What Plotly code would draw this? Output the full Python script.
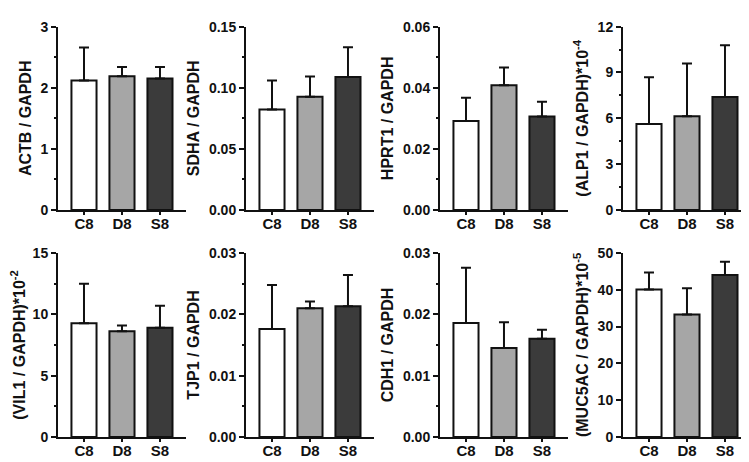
import plotly.graph_objects as go

categories = ["C8", "D8", "S8"]

genes = ["ACTB", "SDHA", "HPRT1", "ALP1", "VIL1", "TJP1", "CDH1", "MUC5AC"]
titles = [
    "ACTB / GAPDH",
    "SDHA / GAPDH",
    "HPRT1 / GAPDH",
    "(ALP1 / GAPDH)*10<sup>-4</sup>",
    "(VIL1 / GAPDH)*10<sup>-2</sup>",
    "TJP1 / GAPDH",
    "CDH1 / GAPDH",
    "(MUC5AC / GAPDH)*10<sup>-5</sup>",
]

actb_mean = [2.12, 2.19, 2.15]
actb_sd = [0.54, 0.15, 0.19]
sdha_mean = [0.0822, 0.0927, 0.1088]
sdha_sd = [0.0237, 0.0166, 0.0244]
hprt1_mean = [0.0291, 0.0408, 0.0306]
hprt1_sd = [0.0076, 0.0058, 0.0048]
alp1_mean = [5.63, 6.13, 7.40]
alp1_sd = [3.05, 3.45, 3.38]
vil1_mean = [9.27, 8.62, 8.91]
vil1_sd = [3.23, 0.47, 1.78]
tjp1_mean = [0.0176, 0.0210, 0.0213]
tjp1_sd = [0.0072, 0.0011, 0.0051]
cdh1_mean = [0.0186, 0.0145, 0.0160]
cdh1_sd = [0.0090, 0.0042, 0.0015]
muc5ac_mean = [40.1, 33.3, 44.0]
muc5ac_sd = [4.6, 7.1, 3.6]

means = [actb_mean, sdha_mean, hprt1_mean, alp1_mean,
         vil1_mean, tjp1_mean, cdh1_mean, muc5ac_mean]
sds = [actb_sd, sdha_sd, hprt1_sd, alp1_sd,
       vil1_sd, tjp1_sd, cdh1_sd, muc5ac_sd]

y_max = [3, 0.15, 0.06, 12, 15, 0.03, 0.03, 50]
y_dtick = [1, 0.05, 0.02, 3, 5, 0.01, 0.01, 10]
y_minor = [True, True, True, True, True, True, True, False]
y_fmt = ["d", ".2f", ".2f", "d", "d", ".2f", ".2f", "d"]

bar_colors = ["#ffffff", "#a6a6a6", "#3b3b3b"]

W, H = 749, 462
axis_left_px = [50, 238, 432, 615]
axis_w_px = 128
row_top_px = [11, 245.5]
row_zero_px = [201, 436]

FONT = "Liberation Sans, Arial, sans-serif"

fig = go.Figure()
layout = dict(
    width=W, height=H,
    margin=dict(l=0, r=0, t=0, b=0),
    paper_bgcolor="white", plot_bgcolor="white",
    showlegend=False,
)

for i in range(8):
    row, col = divmod(i, 4)
    n = i + 1
    xa = "x" if n == 1 else f"x{n}"
    ya = "y" if n == 1 else f"y{n}"
    fig.add_trace(go.Bar(
        x=[0, 1, 2], y=means[i],
        xaxis=xa, yaxis=ya,
        width=0.66,
        marker=dict(color=bar_colors, line=dict(color="#111111", width=2)),
        error_y=dict(type="data", symmetric=False, array=sds[i],
                     arrayminus=[0, 0, 0], color="#111111",
                     thickness=2, width=5),
    ))
    x0 = axis_left_px[col] / W
    x1 = (axis_left_px[col] + axis_w_px) / W
    y1 = 1 - row_top_px[row] / H
    y0 = 1 - row_zero_px[row] / H
    xkey = "xaxis" if n == 1 else f"xaxis{n}"
    ykey = "yaxis" if n == 1 else f"yaxis{n}"
    layout[xkey] = dict(
        domain=[x0, x1], anchor=ya,
        range=[-0.684, 2.685],
        tickmode="array", tickvals=[0, 1, 2], ticktext=categories,
        showline=True, linecolor="#111111", linewidth=2,
        ticks="outside", ticklen=3, tickwidth=1.5, tickcolor="#111111",
        ticklabelstandoff=-4,
        tickfont=dict(family=FONT, size=15, color="#111111", weight="bold"),
        showgrid=False, zeroline=False, fixedrange=True,
    )
    ydict = dict(
        domain=[y0, y1], anchor=xa,
        range=[0, y_max[i]],
        tick0=0, dtick=y_dtick[i], tickformat=y_fmt[i],
        showline=True, linecolor="#111111", linewidth=2,
        ticks="outside", ticklen=5, tickwidth=2, tickcolor="#111111",
        tickfont=dict(family=FONT, size=14, color="#111111", weight="bold"),
        title=dict(text=titles[i], standoff=5,
                   font=dict(family=FONT, size=16, color="#111111", weight="bold")),
        showgrid=False, zeroline=False, fixedrange=True,
    )
    if y_minor[i]:
        ydict["minor"] = dict(dtick=y_dtick[i] / 2, ticks="outside", ticklen=2,
                              tickwidth=1.5, tickcolor="#111111", showgrid=False)
    layout[ykey] = ydict

fig.update_layout(**layout)
fig.write_html("out.html")
